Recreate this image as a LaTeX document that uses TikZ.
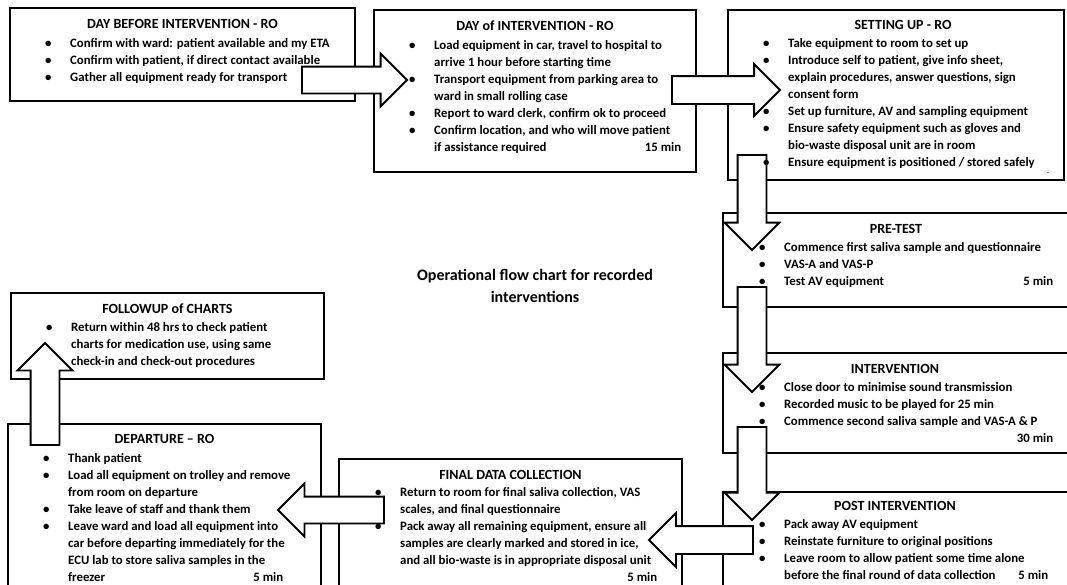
\documentclass[tikz,border=0pt]{standalone}
\usepackage{fontspec}
\usepackage{graphicx}
\setmainfont{Carlito}
\usetikzlibrary{shapes.arrows,calc}
\pgfdeclarelayer{fg}
\pgfsetlayers{main,fg}
\newcommand{\fbul}[1]{\makebox[25pt][l]{\textbullet}#1}
\newcommand{\fcont}[1]{\hspace*{25pt}#1}
\newcommand{\fmin}[3]{\hspace*{25pt}\makebox[#1][l]{#2\hfill #3}}
\newcommand{\fbmin}[3]{\makebox[25pt][l]{\textbullet}\makebox[#1][l]{#2\hfill #3}}
\begin{document}
\begin{tikzpicture}[x=1pt,y=-1pt,
 frame/.style={draw=black, line width=1.8pt, inner sep=0pt, outer sep=0pt, anchor=north west},
 head/.style={font=\fontsize{14}{17}\selectfont\bfseries, inner sep=0pt},
 list/.style={font=\fontsize{12.8}{17}\selectfont\bfseries, align=left, inner sep=0pt, anchor=north west},
 barrow/.style={single arrow, draw=black, fill=white, line width=1.8pt, inner sep=12.5pt, outer sep=0pt, minimum width=0pt, single arrow head extend=13pt, single arrow tip angle=90, anchor=tip}]
\useasboundingbox (0,0) rectangle (1067,584);
\fill[white] (0,0) rectangle (1067,584);
\clip (0,0) rectangle (1067,584);
% frames
\node[frame, minimum width=345pt, minimum height=93pt] (b1) at (10,8) {};
\node[frame, minimum width=322pt, minimum height=162pt] (b2) at (374,10) {};
\node[frame, minimum width=336pt, minimum height=170pt] (b3) at (728,10) {};
\node[frame, minimum width=350pt, minimum height=94pt] (b4) at (723,213) {};
\node[frame, minimum width=350pt, minimum height=100pt] (b5) at (723,353) {};
\node[frame, minimum width=350pt, minimum height=120pt] (b6) at (723,492) {};
\node[frame, minimum width=343pt, minimum height=140pt] (b7) at (339,459) {};
\node[frame, minimum width=313pt, minimum height=86pt] (b8) at (11,293) {};
\node[frame, minimum width=313pt, minimum height=180pt] (b9) at (8,424) {};
% block arrows
\node[barrow, minimum height=105pt] (a1) at (407,80) {};
\node[barrow, minimum height=108pt, inner sep=13pt, single arrow head extend=12pt] (a2) at (780,90) {};
\node[barrow, rotate=-90, minimum height=95pt, inner sep=13.5pt] (a3) at (752,250) {};
\node[barrow, rotate=-90, minimum height=105pt, inner sep=13.5pt] (a4) at (752,392) {};
\node[barrow, rotate=-90, minimum height=93pt, inner sep=13.5pt] (a5) at (752,520) {};
\node[barrow, rotate=180, minimum height=104pt, inner sep=13pt] (a6) at (649,540) {};
\node[barrow, rotate=180, minimum height=106pt] (a7) at (278,510) {};
\node[barrow, rotate=90, minimum height=102pt, inner sep=13.5pt] (a8) at (45,343) {};
\begin{pgfonlayer}{fg}
\node[head] (h1) at ($(b1.north west)+(172.5,16)$) {DAY BEFORE INTERVENTION - RO};
\node[list] (l1) at ($(b1.north west)+(35,30)$) {\fbul{Confirm with ward: patient available and my ETA}\\
\fbul{Confirm with patient, if direct contact available}\\
\fbul{Gather all equipment ready for transport}};
\node[head] (h2) at ($(b2.north west)+(161,16)$) {DAY of INTERVENTION - RO};
\node[list] (l2) at ($(b2.north west)+(35,30)$) {\fbul{Load equipment in car, travel to hospital to}\\
\fcont{arrive 1 hour before starting time}\\
\fbul{Transport equipment from parking area to}\\
\fcont{ward in small rolling case}\\
\fbul{Report to ward clerk, confirm ok to proceed}\\
\fbul{Confirm location, and who will move patient}\\
\fmin{247pt}{if assistance required}{15 min}};
\node[head] (h3) at ($(b3.north west)+(175,15)$) {SETTING UP - RO};
\node[list] (l3) at ($(b3.north west)+(35,28)$) {\fbul{Take equipment to room to set up}\\
\fbul{Introduce self to patient, give info sheet,}\\
\fcont{explain procedures, answer questions, sign}\\
\fcont{consent form}\\
\fbul{Set up furniture, AV and sampling equipment}\\
\fbul{Ensure safety equipment such as gloves and}\\
\fcont{bio-waste disposal unit are in room}\\
\fbul{Ensure equipment is positioned / stored safely}};
\node[font=\fontsize{6}{6}\selectfont\bfseries, inner sep=0pt] (dash) at (1048,173) {-};
\node[head] (h4) at ($(b4.north west)+(173,16)$) {PRE-TEST};
\node[list] (l4) at ($(b4.north west)+(36,29)$) {\fbul{Commence first saliva sample and questionnaire}\\
\fbul{VAS-A and VAS-P}\\
\fbmin{269pt}{Test AV equipment}{5 min}};
\node[head] (h5) at ($(b5.north west)+(172,16)$) {INTERVENTION};
\node[list] (l5) at ($(b5.north west)+(36,29)$) {\fbul{Close door to minimise sound transmission}\\
\fbul{Recorded music to be played for 25 min}\\
\fbul{Commence second saliva sample and VAS-A \& P}\\
\fmin{269pt}{}{30 min}};
\node[head] (h6) at ($(b6.north west)+(172,14)$) {POST INTERVENTION};
\node[list] (l6) at ($(b6.north west)+(36,27)$) {\fbul{Pack away AV equipment}\\
\fbul{Reinstate furniture to original positions}\\
\fbul{Leave room to allow patient some time alone}\\
\fmin{264pt}{before the final round of data collection}{5 min}};
\node[head] (h7) at ($(b7.north west)+(171.5,16)$) {FINAL DATA COLLECTION};
\node[list] (l7) at ($(b7.north west)+(36,28)$) {\fbul{Return to room for final saliva collection, VAS}\\
\fcont{scales, and final questionnaire}\\
\fbul{Pack away all remaining equipment, ensure all}\\
\fcont{samples are clearly marked and stored in ice,}\\
\fcont{and all bio-waste is in appropriate disposal unit}\\
\fmin{257pt}{}{5 min}};
\node[head] (h8) at ($(b8.north west)+(156.5,16)$) {FOLLOWUP of CHARTS};
\node[list] (l8) at ($(b8.north west)+(35,29)$) {\fbul{Return within 48 hrs to check patient}\\
\fcont{charts for medication use, using same}\\
\fcont{check-in and check-out procedures}};
\node[head] (h9) at ($(b9.north west)+(156.5,15)$) {DEPARTURE – RO};
\node[list] (l9) at ($(b9.north west)+(35,29)$) {\fbul{Thank patient}\\
\fbul{Load all equipment on trolley and remove}\\
\fcont{from room on departure}\\
\fbul{Take leave of staff and thank them}\\
\fbul{Leave ward and load all equipment into}\\
\fcont{car before departing immediately for the}\\
\fcont{ECU lab to store saliva samples in the}\\
\fmin{215pt}{freezer}{5 min}};
\node[font=\fontsize{16}{22}\selectfont\bfseries, align=center, inner sep=0pt] (title) at (535,286) {Operational flow chart for recorded\\interventions};
\end{pgfonlayer}
\end{tikzpicture}
\end{document}
